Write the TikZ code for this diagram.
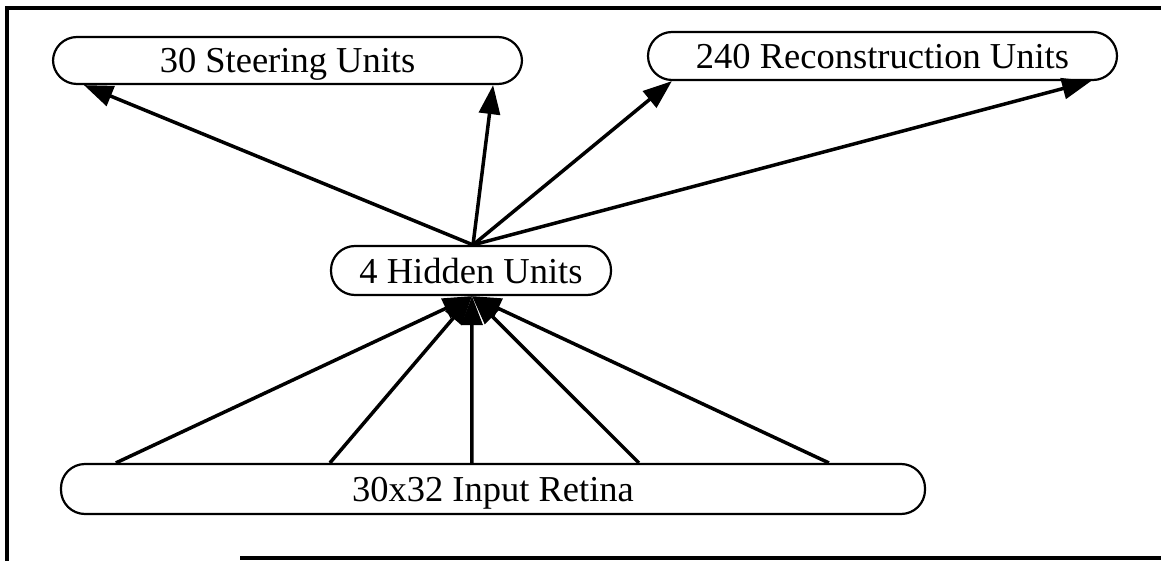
\documentclass[tikz,border=0pt]{standalone}
\usepackage{fontspec}
\setmainfont{Liberation Serif}
\usetikzlibrary{arrows.meta}
\begin{document}
\begin{tikzpicture}[x=1pt,y=-1pt,
  unitbox/.style={draw, line width=2.2pt, rounded corners=24pt, inner sep=0pt,
    font=\fontsize{36.5}{40}\selectfont, text depth=0pt},
  conn/.style={line width=3.5pt, -{Triangle[length=29pt,width=21pt]}},
  frame/.style={line width=3.5pt}]
\useasboundingbox (0,0) rectangle (1161,561);
% frame
\draw[frame] (7,561) -- (7,8) -- (1161,8);
\draw[frame] (240,558) -- (1161,558);
% nodes
\node[unitbox, minimum width=469pt, minimum height=47pt] (st) at (287.5,60.5) {30 Steering Units};
\node[unitbox, minimum width=469pt, minimum height=48pt] (rc) at (882.5,56) {240 Reconstruction Units};
\node[unitbox, minimum width=280pt, minimum height=49pt] (hid) at (471,270.5) {4 Hidden Units};
\node[unitbox, minimum width=864pt, minimum height=50pt] (in) at (493,489) {30x32 Input Retina};
% upper connectors
\draw[conn] ([xshift=2pt]hid.north) -- ([xshift=32pt]st.south west);
\draw[conn] ([xshift=2pt]hid.north) -- ([xshift=-30pt]st.south east);
\draw[conn] ([xshift=2pt]hid.north) -- ([xshift=25pt]rc.south west);
\draw[conn] ([xshift=2pt]hid.north) -- ([xshift=-27pt]rc.south east);
% lower connectors
\draw[conn] ([xshift=56pt]in.north west) -- ([xshift=1pt]hid.south);
\draw[conn] ([xshift=270pt]in.north west) -- ([xshift=1pt]hid.south);
\draw[conn] ([xshift=412pt]in.north west) -- ([xshift=1pt]hid.south);
\draw[conn] ([xshift=579pt]in.north west) -- ([xshift=1pt]hid.south);
\draw[conn] ([xshift=769pt]in.north west) -- ([xshift=1pt]hid.south);
\end{tikzpicture}
\end{document}
